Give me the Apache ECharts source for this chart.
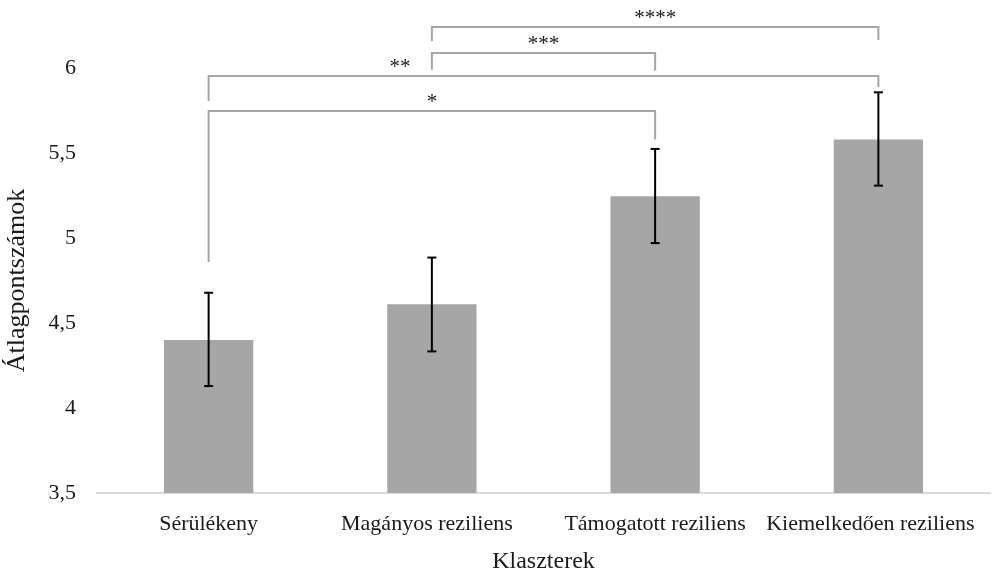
<!DOCTYPE html>
<html>
<head>
<meta charset="utf-8">
<script src="https://cdn.jsdelivr.net/npm/echarts@6/dist/echarts.min.js"></script>
<style>html,body{margin:0;padding:0;background:#fff}#c{width:992px;height:573px}</style>
</head>
<body>
<div id="c"></div>
<script>
var categories = ['Sérülékeny', 'Magányos reziliens', 'Támogatott reziliens', 'Kiemelkedően reziliens'];
var means = [4.40, 4.61, 5.245, 5.58];
var errLow = [4.129, 4.333, 4.97, 5.308];
var errHigh = [4.678, 4.885, 5.524, 5.857];
var yTicks = [3.5, 4, 4.5, 5, 5.5, 6];
// significance brackets
var bracketFrom = [0, 0, 1, 1];
var bracketTo = [2, 3, 2, 3];
var bracketLevel = [5.747, 5.953, 6.088, 6.241];
var bracketLeftEnd = [4.859, 5.806, 5.99, 6.158];
var bracketRightEnd = [5.58, 5.888, 5.984, 6.165];
var bracketLabels = ['*', '**', '***', '****'];
var bracketLabelPos = [1.0, 0.857, 1.5, 2.0];

var FONT = '"Liberation Serif", "Times New Roman", serif';
var chart = echarts.init(document.getElementById('c'), null, {renderer: 'canvas'});

var errData = categories.map(function (c, i) { return [i, errLow[i], errHigh[i]]; });
var brData = bracketFrom.map(function (f, i) {
  return [f, bracketTo[i], bracketLevel[i], bracketLeftEnd[i], bracketRightEnd[i], bracketLabelPos[i], i];
});
var labelStyleKeys = ['n', 'm', 'n', 'k'];

chart.setOption({
  animation: false,
  grid: {left: 97, right: 2, top: 68, bottom: 80, containLabel: false, outerBoundsMode: 'none'},
  xAxis: {
    type: 'category',
    data: categories,
    name: 'Klaszterek',
    nameLocation: 'middle',
    nameGap: 57,
    nameTextStyle: {fontFamily: FONT, fontSize: 24, color: '#1a1a1a'},
    axisLine: {lineStyle: {color: '#d9d9d9', width: 2}},
    axisTick: {show: false},
    axisLabel: {
      fontFamily: FONT, fontSize: 22, color: '#1a1a1a', margin: 20, interval: 0,
      formatter: function (v, i) { return '{' + labelStyleKeys[i] + '|' + v + '}'; },
      rich: {
        n: {fontFamily: FONT, fontSize: 22, color: '#1a1a1a'},
        m: {fontFamily: FONT, fontSize: 22, color: '#1a1a1a', padding: [0, 10, 0, 0]},
        k: {fontFamily: FONT, fontSize: 22, color: '#1a1a1a', padding: [0, 16, 0, 0]}
      }
    }
  },
  yAxis: {
    type: 'value',
    min: 3.5, max: 6, interval: 0.5,
    name: 'Átlagpontszámok',
    nameLocation: 'middle',
    nameGap: 67,
    nameTextStyle: {fontFamily: FONT, fontSize: 26, color: '#1a1a1a'},
    axisLine: {show: false},
    axisTick: {show: false},
    splitLine: {show: false},
    axisLabel: {
      fontFamily: FONT, fontSize: 22, color: '#1a1a1a', margin: 21,
      formatter: function (v) { return String(v).replace('.', ','); }
    }
  },
  series: [
    {
      type: 'bar',
      data: means,
      barWidth: '40%',
      itemStyle: {color: '#a6a6a6'}
    },
    {
      type: 'custom',
      data: errData,
      z: 5,
      renderItem: function (params, api) {
        var x = api.value(0);
        var lo = api.coord([x, api.value(1)]);
        var hi = api.coord([x, api.value(2)]);
        var hw = 4.5;
        var st = {stroke: '#000', lineWidth: 2};
        return {type: 'group', children: [
          {type: 'line', shape: {x1: lo[0], y1: lo[1], x2: hi[0], y2: hi[1]}, style: st},
          {type: 'line', shape: {x1: lo[0] - hw, y1: lo[1], x2: lo[0] + hw, y2: lo[1]}, style: st},
          {type: 'line', shape: {x1: hi[0] - hw, y1: hi[1], x2: hi[0] + hw, y2: hi[1]}, style: st}
        ]};
      }
    },
    {
      type: 'custom',
      data: brData,
      clip: false,
      z: 6,
      renderItem: function (params, api) {
        var f = api.value(0), t = api.value(1), lvl = api.value(2);
        var p1 = api.coord([f, api.value(3)]);
        var p2 = api.coord([f, lvl]);
        var p3 = api.coord([t, lvl]);
        var p4 = api.coord([t, api.value(4)]);
        var c0 = api.coord([0, lvl]);
        var c1 = api.coord([1, lvl]);
        var lp = api.value(5);
        var lx = c0[0] + (c1[0] - c0[0]) * lp;
        var idx = api.value(6);
        return {type: 'group', children: [
          {type: 'polyline', shape: {points: [p1, p2, p3, p4]},
           style: {stroke: '#a6a6a6', lineWidth: 2, fill: null}},
          {type: 'text', x: lx, y: p2[1] + 2,
           style: {text: bracketLabels[idx], fontFamily: FONT, fontSize: 21, fill: '#1a1a1a',
                   align: 'center', verticalAlign: 'bottom'}}
        ]};
      }
    }
  ]
});
</script>
</body>
</html>
